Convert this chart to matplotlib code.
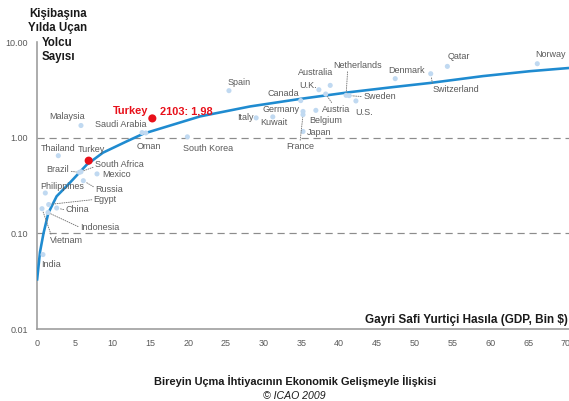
import numpy as np
import matplotlib.pyplot as plt

# ülke noktaları (GDP bin $, kişi başı yolcu sayısı)
countries = ["India", "Vietnam", "Indonesia", "China", "Egypt", "Philippines",
             "Russia", "Brazil", "South Africa", "Mexico", "Thailand", "Malaysia",
             "Saudi Arabia", "Oman", "South Korea", "Spain", "Italy", "Kuwait",
             "Germany", "France", "Japan", "Canada", "Belgium", "U.K.", "Australia",
             "Austria", "Netherlands", "Sweden", "U.S.", "Denmark", "Switzerland",
             "Qatar", "Norway"]
gdp = [0.79, 0.66, 1.46, 2.6, 1.55, 1.1,
       6.13, 5.6, 5.82, 7.94, 2.82, 5.82,
       13.9, 14.4, 19.9, 25.4, 29.0, 31.2,
       35.2, 35.2, 35.2, 34.9, 36.9, 37.3, 38.8,
       38.2, 40.9, 41.3, 42.2, 47.4, 52.1,
       54.3, 66.2]
trips = [0.060, 0.181, 0.165, 0.184, 0.20, 0.264,
         0.355, 0.434, 0.44, 0.418, 0.648, 1.34,
         1.13, 1.12, 1.02, 3.10, 1.61, 1.65,
         1.88, 1.74, 1.16, 2.44, 1.93, 3.17, 3.52,
         2.86, 2.77, 2.75, 2.42, 4.14, 4.66,
         5.56, 5.93]

# Türkiye: bugün ve 2103
turkey_gdp = [6.84, 15.26]
turkey_trips = [0.575, 1.59]

# eğri
curve_gdp = [0, 0.4, 0.86, 1.5, 2.6, 4.37, 6.58, 8.73, 11.87, 14.07,
             21.6, 28.2, 34.8, 41.4, 47.0, 52.0, 59.0, 65.2, 70.4]
curve_trips = [0.032, 0.064, 0.10, 0.163, 0.244, 0.339, 0.522, 0.697, 0.915, 1.10,
               1.67, 2.12, 2.54, 2.99, 3.37, 3.73, 4.40, 4.95, 5.35]

x_ticks = list(range(0, 75, 5))
y_ticks = [0.01, 0.1, 1.0, 10.0]
y_tick_labels = ["0.01", "0.10", "1.00", "10.00"]

# etiket yerleşimi (piksel ofseti, hizalama, kılavuz çizgi bağlantısı)
label_pos = {
    "India": (-2, -10, "left", None),
    "Vietnam": (8, -32, "left", (0.05, 1)),
    "Indonesia": (32, -15, "left", (0, 0.5)),
    "China": (9, -2, "left", (0, 0.5)),
    "Egypt": (45, 5, "left", (0, 0.5)),
    "Philippines": (-5, 6, "left", None),
    "Russia": (12, -9, "left", (0, 0.7)),
    "Brazil": (-10, 3, "right", (1, 0.3)),
    "South Africa": (14, 7, "left", (0, 0.3)),
    "Mexico": (5, -1, "left", None),
    "Thailand": (-18, 7, "left", None),
    "Malaysia": (-32, 9, "left", None),
    "Saudi Arabia": (-47, 8, "left", None),
    "Oman": (-9, -14, "left", None),
    "South Korea": (-4, -12, "left", None),
    "Spain": (-1, 8, "left", None),
    "Italy": (-3, 0, "right", None),
    "Kuwait": (-13, -6, "left", None),
    "Germany": (-41, 2, "left", None),
    "France": (-17, -32, "left", (0.5, 1)),
    "Japan": (4, -1, "left", None),
    "Canada": (-33, 7, "left", None),
    "Belgium": (-7, -10, "left", None),
    "U.K.": (-20, 4, "left", None),
    "Australia": (-32, 13, "left", None),
    "Austria": (-4, -15, "left", (0.4, 1)),
    "Netherlands": (-13, 30, "left", (0.3, 0)),
    "Sweden": (14, -1, "left", (0, 0.5)),
    "U.S.": (-1, -12, "left", None),
    "Denmark": (-7, 8, "left", None),
    "Switzerland": (2, -16, "left", (0, 1)),
    "Qatar": (0, 10, "left", None),
    "Norway": (-2, 9, "left", None),
}

W, H = 569, 401
fig = plt.figure(figsize=(W / 72 + 1e-6, H / 72 + 1e-6), dpi=72)
# x=0 -> 37 px, x=70 -> 566 px, eksen sağ kenara kadar uzar
ax = fig.add_axes([37 / W, 1 - 329 / H, (569 - 37) / W, (329 - 42) / H])

sans = ["Liberation Sans", "DejaVu Sans"]
gray = "#5a5a5a"
lab_size = 9

ax.set_yscale("log")
ax.set_xlim(0, 70 * (569 - 37) / (566 - 37))
ax.set_ylim(0.01, 10)

for v in [0.1, 1.0]:
    ax.axhline(v, color="#8c8c8c", lw=1.2, ls=(0, (6, 4)), zorder=1)

ax.plot(curve_gdp, curve_trips, color="#1f8bd0", lw=2.6, zorder=3,
        solid_capstyle="butt", solid_joinstyle="round")
ax.scatter(gdp, trips, s=26, color="#c0d9f1", edgecolors="none", zorder=4)
ax.scatter(turkey_gdp, turkey_trips, s=66, color="#e8101a", edgecolors="none", zorder=5)

for name, x, y in zip(countries, gdp, trips):
    dx, dy, ha, rel = label_pos[name]
    arrow = None
    if rel is not None:
        arrow = dict(arrowstyle="-", ls=(0, (1, 1.5)), color="#777777", lw=0.9,
                     shrinkA=0, shrinkB=3, relpos=rel)
    ax.annotate(name, (x, y), xytext=(dx, dy), textcoords="offset points",
                ha=ha, va="center", fontsize=lab_size, color=gray, family=sans,
                arrowprops=arrow, zorder=6)

# Türkiye etiketleri
ax.annotate("Turkey", (turkey_gdp[0], turkey_trips[0]), xytext=(-11, 11),
            textcoords="offset points", ha="left", va="center", fontsize=lab_size,
            color=gray, family=sans)
ax.annotate("Turkey", (turkey_gdp[1], turkey_trips[1]), xytext=(-4, 7),
            textcoords="offset points", ha="right", va="center", fontsize=11,
            color="#e8101a", fontweight="bold", family=sans)
ax.annotate("2103: 1,98", (turkey_gdp[1], turkey_trips[1]), xytext=(8, 7),
            textcoords="offset points", ha="left", va="center", fontsize=11,
            color="#e8101a", fontweight="bold", family=sans)

ax.set_xticks(x_ticks)
ax.set_xticklabels([str(t) for t in x_ticks], family=sans, fontsize=lab_size, color=gray)
ax.set_yticks(y_ticks)
ax.set_yticklabels(y_tick_labels, family=sans, fontsize=lab_size, color=gray)
ax.yaxis.set_minor_locator(plt.NullLocator())
ax.tick_params(axis="x", length=0, pad=10)
ax.tick_params(axis="y", length=0, pad=9)

for s in ["top", "right"]:
    ax.spines[s].set_visible(False)
for s in ["left", "bottom"]:
    ax.spines[s].set_color("#9a9a9a")
    ax.spines[s].set_linewidth(1.6)

fig.text(568 / W, 1 - 320 / H, "Gayri Safi Yurtiçi Hasıla (GDP, Bin $)",
         ha="right", va="center", fontsize=11.8, fontweight="bold", family=sans, color="#1a1a1a")

# başlık (y ekseni)
fig.text(58 / W, 1 - 21 / H, "Kişibaşına\nYılda Uçan", ha="center", va="center",
         fontsize=11.5, fontweight="bold", family=sans, color="#1a1a1a", linespacing=1.15)
fig.text(42 / W, 1 - 50 / H, "Yolcu\nSayısı", ha="left", va="center",
         fontsize=11.5, fontweight="bold", family=sans, color="#1a1a1a", linespacing=1.15)

# alt yazı
fig.text(295 / W, 1 - 381 / H, "Bireyin Uçma İhtiyacının Ekonomik Gelişmeyle İlişkisi",
         ha="center", va="center", fontsize=11, fontweight="bold", family=sans, color="#1a1a1a")
fig.text(294 / W, 1 - 396 / H, "© ICAO 2009", ha="center", va="center",
         fontsize=10.5, style="italic", family=sans, color="#1a1a1a")

fig.savefig("out.png", dpi=72)
